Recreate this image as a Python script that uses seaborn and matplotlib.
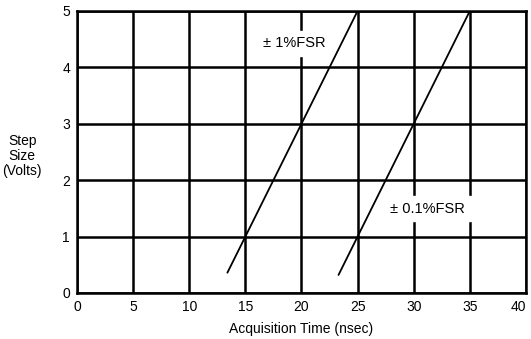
import pandas as pd
import numpy as np
import matplotlib
matplotlib.use('Agg')
import matplotlib.pyplot as plt
import seaborn as sns

# 数据
time_1pct = [13.4, 25.0]
volts_1pct = [0.36, 5.0]
time_01pct = [23.3, 35.0]
volts_01pct = [0.32, 5.0]
x_ticks = [0, 5, 10, 15, 20, 25, 30, 35, 40]
y_ticks = [0, 1, 2, 3, 4, 5]

sns.set_style('white')
plt.rcParams['font.family'] = ['Liberation Sans', 'DejaVu Sans']
plt.rcParams['text.color'] = 'black'
plt.rcParams['xtick.color'] = 'black'
plt.rcParams['ytick.color'] = 'black'
plt.rcParams['axes.labelcolor'] = 'black'

df = pd.DataFrame({
    'time': time_1pct + time_01pct,
    'volts': volts_1pct + volts_01pct,
    'curve': ['1%'] * 2 + ['0.1%'] * 2,
})

fig = plt.figure(figsize=(5.31, 3.39), dpi=100)
ax = fig.add_axes([0.145, 0.1357, 0.8455, 0.832])

# 网格线
for xv in x_ticks:
    ax.axvline(xv, color='black', linewidth=1.8, zorder=1)
for yv in y_ticks:
    ax.axhline(yv, color='black', linewidth=1.8, zorder=1)

sns.lineplot(data=df, x='time', y='volts', units='curve', estimator=None,
             color='black', linewidth=1.3, ax=ax, zorder=3)

ax.set_xlim(0, 40)
ax.set_ylim(0, 5)
ax.set_xticks(x_ticks)
ax.set_yticks(y_ticks)
ax.tick_params(length=0, labelsize=10, pad=5)
ax.get_xticklabels()[-1].set_horizontalalignment('right')
for s in ax.spines.values():
    s.set_linewidth(1.8)
    s.set_color('black')

ax.set_xlabel('Acquisition Time (nsec)', fontsize=10, labelpad=6)
ax.set_ylabel('')
fig.text(0.042, 0.54, 'Step\nSize\n(Volts)', ha='center', va='center',
         fontsize=10, linespacing=1.1)

ax.text(16.6, 4.43, '± 1%FSR', fontsize=10.5, ha='left', va='center',
        backgroundcolor='white', zorder=4)
ax.text(27.9, 1.49, '± 0.1%FSR', fontsize=10.5, ha='left', va='center',
        backgroundcolor='white', zorder=4)

plt.savefig('out.png', dpi=100)
plt.close()
